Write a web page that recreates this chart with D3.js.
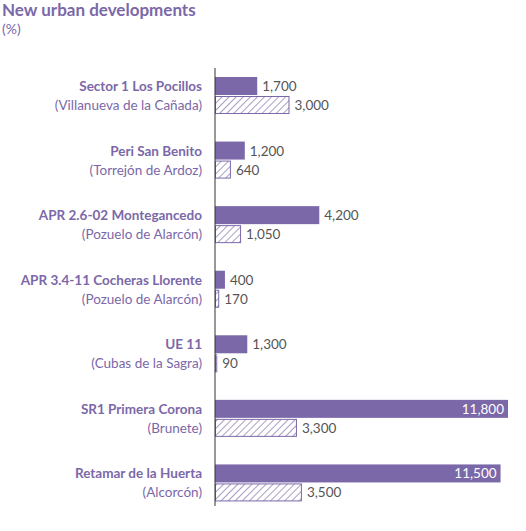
<!DOCTYPE html><html><head><meta charset="utf-8"><script src="https://cdn.jsdelivr.net/npm/d3@7"></script>
<style>body{margin:0;background:#fff}</style></head><body><svg id="c" width="526" height="531"></svg>
<script>
const names=["Sector 1 Los Pocillos","Peri San Benito","APR 2.6-02 Montegancedo","APR 3.4-11 Cocheras Llorente","UE 11","SR1 Primera Corona","Retamar de la Huerta"];
const places=["(Villanueva de la Cañada)","(Torrejón de Ardoz)","(Pozuelo de Alarcón)","(Pozuelo de Alarcón)","(Cubas de la Sagra)","(Brunete)","(Alcorcón)"];
const solid=[1700,1200,4200,400,1300,11800,11500];
const hatched=[3000,640,1050,170,90,3300,3500];
const P="#7b68a8",F="Lato, 'Open Sans', sans-serif";
const svg=d3.select("#c");
const defs=svg.append("defs");
const pat=defs.append("pattern").attr("id","h").attr("patternUnits","userSpaceOnUse").attr("width",5).attr("height",5).attr("patternTransform","rotate(45)");
pat.append("rect").attr("width",5).attr("height",5).attr("fill","#fff");
pat.append("line").attr("x1",0).attr("y1",0).attr("x2",0).attr("y2",5).attr("stroke",P).attr("stroke-width",1.3);
svg.append("text").attr("x",2).attr("y",16).attr("font-family",F).attr("font-weight","bold").attr("font-size",17).attr("fill",P).text("New urban developments");
svg.append("text").attr("x",2).attr("y",34).attr("font-family",F).attr("font-size",14).attr("fill",P).text("(%)");
const x=d3.scaleLinear().domain([0,11800]).range([215,508]);
const y=d3.scaleBand().domain(names).range([68,520]).paddingInner(0);
const bh=18;
names.forEach((n,i)=>{
  const y0=y(n)+9;
  svg.append("text").attr("x",202).attr("y",y0+14).attr("text-anchor","end").attr("font-family",F).attr("font-weight","bold").attr("font-size",13.5).attr("fill",P).text(n);
  svg.append("text").attr("x",202).attr("y",y0+33).attr("text-anchor","end").attr("font-family",F).attr("font-size",13.5).attr("fill",P).text(places[i]);
  svg.append("rect").attr("x",x(0)).attr("y",y0).attr("width",x(solid[i])-x(0)).attr("height",bh).attr("fill",P);
  svg.append("rect").attr("x",x(0)+0.5).attr("y",y0+bh+1.5).attr("width",x(hatched[i])-x(0)-1).attr("height",bh-1).attr("fill","url(#h)").attr("stroke",P).attr("stroke-width",1);
  const f=d3.format(",");
  const inside=solid[i]>8000;
  svg.append("text").attr("x",inside?x(solid[i])-4:x(solid[i])+5).attr("y",y0+14).attr("text-anchor",inside?"end":"start").attr("font-family",F).attr("font-size",13.5).attr("fill",inside?"#fff":"#555").text(f(solid[i]));
  svg.append("text").attr("x",x(hatched[i])+5).attr("y",y0+bh+15).attr("font-family",F).attr("font-size",13.5).attr("fill","#555").text(f(hatched[i]));
});
svg.append("line").attr("x1",x(0)).attr("x2",x(0)).attr("y1",68).attr("y2",506).attr("stroke","#333").attr("stroke-width",1);
</script></body></html>
